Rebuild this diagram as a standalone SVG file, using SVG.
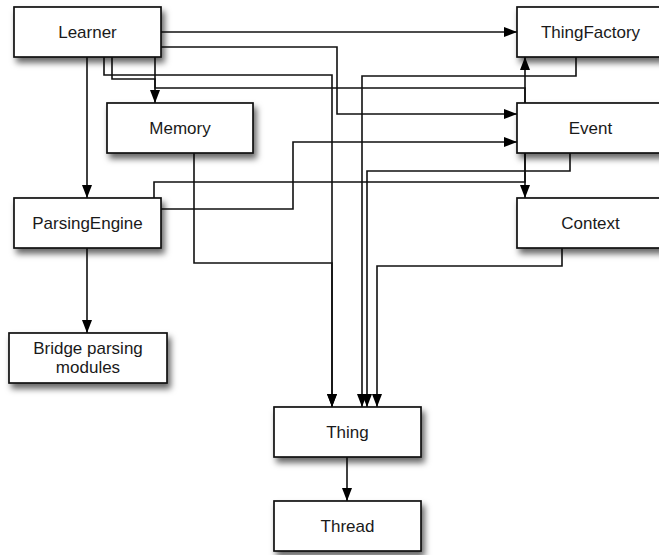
<svg xmlns="http://www.w3.org/2000/svg" width="659" height="555" viewBox="0 0 659 555">
<style>
.box{fill:#fff;stroke:#111;stroke-width:1.7;filter:url(#sh)}
.lbl{font-family:"Liberation Sans",Arial,sans-serif;font-size:17px;fill:#1a1a1a;text-anchor:middle}
.e{fill:none;stroke:#111;stroke-width:1.6}
.a{marker-end:url(#ah)}
</style>
<defs>
<filter id="sh" x="-20%" y="-30%" width="150%" height="180%">
<feDropShadow dx="3" dy="5" stdDeviation="3" flood-color="#000" flood-opacity="0.6"/>
</filter>
<marker id="ah" markerUnits="userSpaceOnUse" markerWidth="13" markerHeight="10" refX="13" refY="5" orient="auto" viewBox="0 0 13 10">
<path d="M0,0 L13,5 L0,10 z" fill="#000"/>
</marker>
</defs>
<rect width="659" height="555" fill="#fff"/>
<g id="connectors">
<path class="e a" d="M161,32 H517"/>
<path class="e a" d="M161,47 H337 V114 H517"/>
<path class="e a" d="M104,57 V75 H332 V407"/>
<path class="e a" d="M112,57 V79 H155 V103"/>
<path class="e a" d="M155,57 V88 H525 V198"/>
<path class="e a" d="M154,198 V182 H525 V57"/>
<path class="e a" d="M194,153 V263 H332 V407"/>
<path class="e a" d="M161,209 H293 V142 H517"/>
<path class="e a" d="M87,248 V333"/>
<path class="e a" d="M87,57 V198"/>
<path class="e a" d="M576,57 V76 H362 V407"/>
<path class="e a" d="M570,153 V171 H367 V407"/>
<path class="e a" d="M562,248 V266 H377 V407"/>
<path class="e a" d="M347,457 V501"/>
</g>
<g id="Learner"><rect class="box" x="14" y="7" width="147" height="50"/><text class="lbl" x="87.5" y="38">Learner</text></g>
<g id="ThingFactory"><rect class="box" x="517" y="7" width="147" height="50"/><text class="lbl" x="590.5" y="38">ThingFactory</text></g>
<g id="Memory"><rect class="box" x="107" y="103" width="146" height="50"/><text class="lbl" x="180" y="134">Memory</text></g>
<g id="Event"><rect class="box" x="517" y="103" width="147" height="50"/><text class="lbl" x="590.5" y="134">Event</text></g>
<g id="ParsingEngine"><rect class="box" x="14" y="198" width="147" height="50"/><text class="lbl" x="87.5" y="229">ParsingEngine</text></g>
<g id="Context"><rect class="box" x="517" y="198" width="147" height="50"/><text class="lbl" x="590.5" y="229">Context</text></g>
<g id="BridgeParsingModules"><rect class="box" x="9" y="333" width="158" height="50"/><text class="lbl" x="88" y="354">Bridge parsing</text><text class="lbl" x="88" y="373">modules</text></g>
<g id="Thing"><rect class="box" x="274" y="407" width="147" height="50"/><text class="lbl" x="347.5" y="438">Thing</text></g>
<g id="Thread"><rect class="box" x="274" y="501" width="147" height="50"/><text class="lbl" x="347.5" y="532">Thread</text></g>
</svg>
